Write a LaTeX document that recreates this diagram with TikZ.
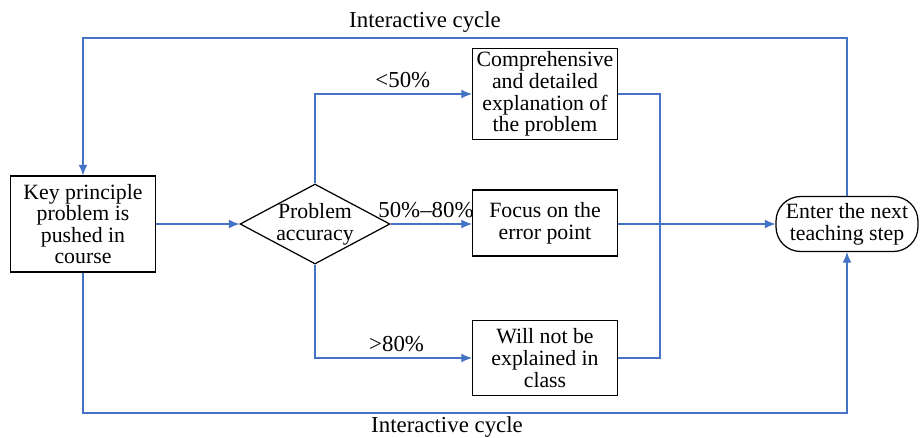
\documentclass[tikz,border=0pt]{standalone}
\usepackage{fontspec}
\setmainfont{Liberation Serif}
\usetikzlibrary{shapes.geometric,arrows.meta,positioning}
\definecolor{flowblue}{RGB}{68,114,196}
\tikzset{
  box/.style={draw, line width=0.7pt, minimum width=2.9cm, align=center, inner sep=1pt},
  decision/.style={draw, diamond, line width=0.7pt, minimum width=3cm, minimum height=1.6cm, inner sep=0pt},
  terminal/.style={draw, line width=0.7pt, rounded corners=14pt, minimum width=2.84cm, minimum height=1.1cm, align=center, inner sep=1pt},
  flow/.style={flowblue, line width=0.6pt},
  arr/.style={flow, -{Latex[length=6pt,width=5pt]}},
  lbl/.style={text=black, font=\rmfamily\fontsize{13}{13}\selectfont}
}
\begin{document}
\begin{tikzpicture}[x=0.02cm, y=-0.02cm, font=\rmfamily\fontsize{12.4}{12.3}\selectfont]
  \useasboundingbox (0,0) rectangle (920,437);
  % Knoten
  \node[box, minimum height=1.92cm] (push) at (83,224) {Key principle\\problem is\\pushed in\\course};
  \node[decision, label={[align=center]center:Problem\\accuracy}] (acc) at (315,224) {};
  \node[box, minimum height=1.82cm] (expl) at (545,94) {Comprehensive\\and detailed\\explanation of\\the problem};
  \node[box, minimum height=1.32cm] (focus) at (545,223) {Focus on the\\error point};
  \node[box, minimum height=1.5cm] (skip) at (545,358) {Will not be\\explained in\\class};
  \node[terminal] (next) at (847,224) {Enter the next\\teaching step};
  % Hilfspunkte
  \coordinate (topline) at (0,38);
  \coordinate (botline) at (0,413);
  \coordinate (merge) at (660,0);
  % Verzweigungen
  \draw[arr] (push.east) -- (acc.west);
  \draw[arr] (acc.north) |- (expl.west) node[lbl, pos=0.78, above] {<50\%};
  \draw[arr] (acc.east) -- (acc.east -| focus.west) node[lbl, midway, above, xshift=-3pt] {50\%--80\%};
  \draw[arr] (acc.south) |- (skip.west) node[lbl, pos=0.76, above] {>80\%};
  \draw[flow] (expl.east) -| (merge |- skip.east) -- (skip.east);
  \draw[arr] (focus.east |- next.west) -- (next.west);
  % Interaktionsschleifen
  \draw[arr] (next.north) -- (next.north |- topline) -| (push.north);
  \draw[arr] (push.south) |- (next.south |- botline) -- (next.south);
  \node[lbl] (cyctop) at (425,22) {Interactive cycle};
  \node[lbl] (cycbot) at (447,427) {Interactive cycle};
\end{tikzpicture}
\end{document}
